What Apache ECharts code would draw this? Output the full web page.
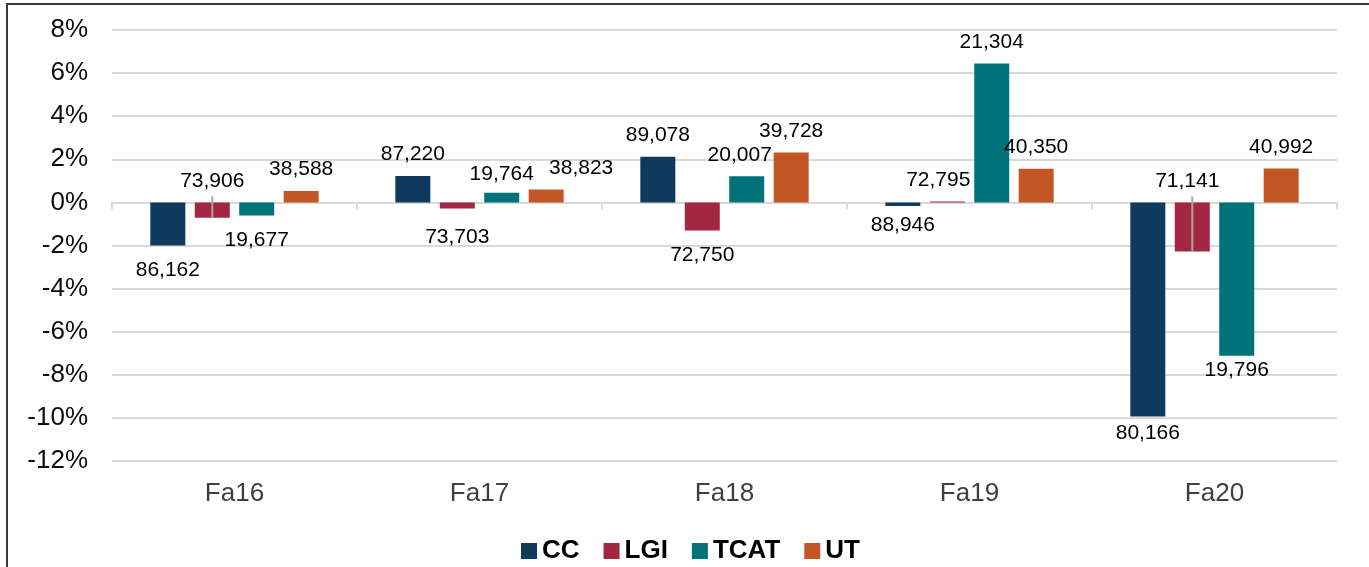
<!DOCTYPE html>
<html>
<head>
<meta charset="utf-8">
<script src="https://cdn.jsdelivr.net/npm/echarts@6/dist/echarts.min.js"></script>
<style>
  html, body { margin: 0; padding: 0; background: #fff; }
  .frame {
    position: absolute; left: 6px; top: 3px;
    width: 1500px; height: 700px;
    border: 2px solid #3a3a3a;
  }
  #chart { position: absolute; left: 0; top: 0; width: 1369px; height: 567px; }
</style>
</head>
<body>
<div class="frame"></div>
<div id="chart"></div>
<script>
// change in enrollment (%) and headcount labels
const categories = ['Fa16', 'Fa17', 'Fa18', 'Fa19', 'Fa20']
const seriesNames = ['CC', 'LGI', 'TCAT', 'UT']

const ccPct = [-2.0, 1.22, 2.12, -0.17, -9.94]
const lgiPct = [-0.71, -0.28, -1.3, 0.04, -2.28]
const tcatPct = [-0.61, 0.45, 1.21, 6.44, -7.12]
const utPct = [0.53, 0.6, 2.31, 1.56, 1.57]

const ccHead = [86162, 87220, 89078, 88946, 80166]
const lgiHead = [73906, 73703, 72750, 72795, 71141]
const tcatHead = [19677, 19764, 20007, 21304, 19796]
const utHead = [38588, 38823, 39728, 40350, 40992]

const yTicks = [-12, -10, -8, -6, -4, -2, 0, 2, 4, 6, 8]

const colors = ['#0E3A5D', '#A32643', '#00737A', '#C25627']

const pctSeries = [ccPct, lgiPct, tcatPct, utPct]
const headSeries = [ccHead, lgiHead, tcatHead, utHead]

// labels Excel pulled above the zero line (with a leader line)
const labelAboveZero = { '1-0': true, '1-4': true }
// small label nudges [dx, dy]
const labelNudge = {
  '1-4': [-5, 0],
  '1-3': [-9, 0],
  '2-2': [-7, 0],
  '3-1': [35, 0],
  '1-1': [0, 4],
  '0-3': [0, -5],
  '0-4': [0, -8],
  '2-4': [0, -10],
  '2-1': [0, 3]
}

const BAR_W = 35
const BAR_GAP = 0.27
const LABEL_FONT = 'Liberation Sans, Arial, sans-serif'

const chart = echarts.init(document.getElementById('chart'), null, { renderer: 'canvas' })

const barSeries = seriesNames.map((name, s) => ({
  name: name,
  type: 'bar',
  xAxisIndex: 0,
  barWidth: BAR_W,
  barGap: (BAR_GAP * 100) + '%',
  itemStyle: { color: colors[s] },
  label: {
    show: true,
    color: '#000',
    fontSize: 21,
    fontFamily: LABEL_FONT,
    formatter: p => headSeries[s][p.dataIndex].toLocaleString('en-US')
  },
  data: pctSeries[s].map((v, i) => {
    const up = v >= 0 || labelAboveZero[s + '-' + i]
    return {
      value: v,
      label: { position: up ? 'top' : 'bottom', distance: up ? 11 : 14 }
    }
  })
}))

// leader lines for the two LGI labels moved above zero
const groupW = 4 * BAR_W + 3 * BAR_W * BAR_GAP
const lgiOffset = -groupW / 2 + BAR_W * 1.5 + BAR_W * BAR_GAP
const leaderData = lgiPct
  .map((v, i) => [i, v])
  .filter(d => labelAboveZero['1-' + d[0]])

const leaderSeries = {
  type: 'custom',
  xAxisIndex: 0,
  silent: true,
  z: 5,
  renderItem: (params, api) => {
    const zero = api.coord([api.value(0), 0])
    const end = api.coord([api.value(0), api.value(1)])
    const x = zero[0] + lgiOffset
    return {
      type: 'line',
      shape: { x1: x, y1: zero[1] - 6, x2: x, y2: end[1] },
      style: { stroke: '#a6a6a6', lineWidth: 2 }
    }
  },
  data: leaderData
}

const option = {
  animation: false,
  color: colors,
  grid: { left: 112, right: 32, top: 30, bottom: 106 },
  legend: {
    data: seriesNames,
    left: 516,
    top: 533,
    icon: 'rect',
    itemWidth: 16,
    itemHeight: 16,
    itemGap: 24,
    textStyle: { color: '#000', fontSize: 26, fontWeight: 'bold', fontFamily: LABEL_FONT }
  },
  xAxis: [
    {
      type: 'category',
      data: categories,
      position: 'bottom',
      axisLine: { show: false, onZero: false },
      axisTick: { show: false },
      axisLabel: { color: '#404040', fontSize: 26, fontFamily: LABEL_FONT, margin: 20 }
    },
    {
      type: 'category',
      data: categories,
      position: 'bottom',
      axisLine: { show: true, onZero: true, lineStyle: { color: '#d9d9d9', width: 2 } },
      axisTick: { show: true, length: 7, lineStyle: { color: '#d9d9d9', width: 2 } },
      axisLabel: { show: false }
    }
  ],
  yAxis: {
    type: 'value',
    min: yTicks[0],
    max: yTicks[yTicks.length - 1],
    interval: 2,
    axisLine: { show: false },
    axisTick: { show: false },
    axisLabel: {
      formatter: '{value}%',
      color: '#0d0d0d',
      fontSize: 26,
      fontFamily: LABEL_FONT,
      margin: 24
    },
    splitLine: { lineStyle: { color: '#d9d9d9', width: 2 } }
  },
  labelLayout: params => {
    const n = labelNudge[params.seriesIndex + '-' + params.dataIndex]
    if (!n) return {}
    return { dx: n[0], dy: n[1] }
  },
  series: [...barSeries, leaderSeries]
}

chart.setOption(option)
</script>
</body>
</html>
